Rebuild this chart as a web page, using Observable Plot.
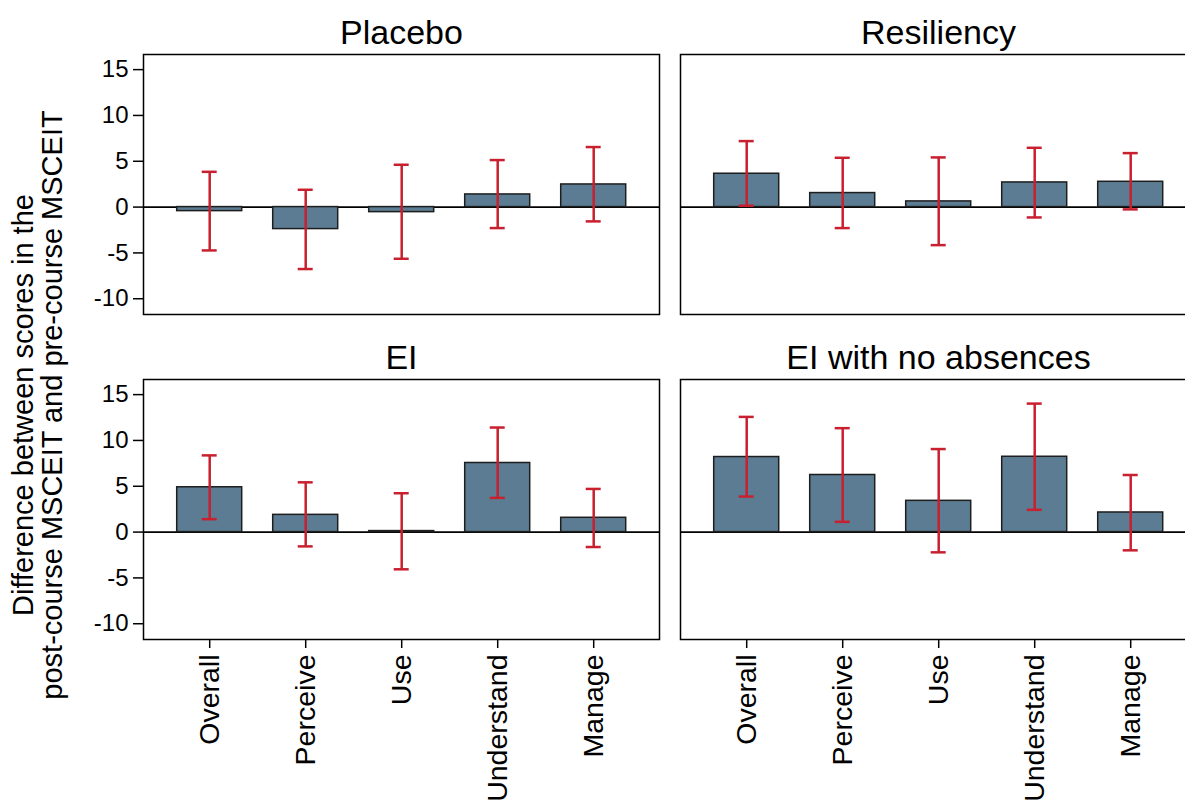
<!DOCTYPE html>
<html>
<head>
<meta charset="utf-8">
<script src="https://cdn.jsdelivr.net/npm/d3@7"></script>
<script src="https://cdn.jsdelivr.net/npm/@observablehq/plot@0.6"></script>
<style>
  html, body { margin: 0; padding: 0; background: #fff; overflow: hidden; }
  #chart { width: 1185px; height: 806px; overflow: hidden; position: relative; }
  #chart svg { font-family: "Liberation Sans", Arial, sans-serif; max-width: none !important; }
  #chart g[aria-label="y-axis tick label"] text { font-size: 24px; }
  #chart g[aria-label="x-axis tick label"] text { font-size: 28.5px; }
</style>
</head>
<body>
<div id="chart"></div>
<script>
// ---- Data ----
const measures = ["Overall", "Perceive", "Use", "Understand", "Manage"];
const groups = ["Placebo", "Resiliency", "EI", "EI with no absences"];

const placeboMean = [-0.44, -2.40, -0.55, 1.38, 2.47];
const placeboLow  = [-4.73, -6.76, -5.64, -2.29, -1.56];
const placeboHigh = [3.85, 1.89, 4.62, 5.13, 6.55];

const resiliencyMean = [3.64, 1.53, 0.62, 2.69, 2.76];
const resiliencyLow  = [0.15, -2.29, -4.15, -1.13, -0.25];
const resiliencyHigh = [7.20, 5.38, 5.42, 6.47, 5.89];

const eiMean = [4.89, 1.88, 0.11, 7.54, 1.56];
const eiLow  = [1.41, -1.56, -4.06, 3.73, -1.63];
const eiHigh = [8.37, 5.43, 4.24, 11.41, 4.71];

const eiNoAbsMean = [8.19, 6.23, 3.41, 8.22, 2.14];
const eiNoAbsLow  = [3.88, 1.12, -2.21, 2.43, -1.99];
const eiNoAbsHigh = [12.57, 11.34, 9.06, 14.02, 6.23];

const yTicks = [-10, -5, 0, 5, 10, 15];
const yLabelLines = ["Difference between scores in the", "post-course MSCEIT and pre-course MSCEIT"];

// ---- Build table ----
const series = [
  [placeboMean, placeboLow, placeboHigh],
  [resiliencyMean, resiliencyLow, resiliencyHigh],
  [eiMean, eiLow, eiHigh],
  [eiNoAbsMean, eiNoAbsLow, eiNoAbsHigh]
];
const data = [];
groups.forEach((g, gi) => {
  const [m, lo, hi] = series[gi];
  measures.forEach((k, i) => {
    data.push({group: g, col: gi % 2, row: Math.floor(gi / 2), measure: k, mean: m[i], low: lo[i], high: hi[i]});
  });
});
const panels = groups.map((g, gi) => ({group: g, col: gi % 2, row: Math.floor(gi / 2)}));

const red = "#c8202f";
const chart = Plot.plot({
  width: 1196,
  height: 806,
  marginLeft: 143.3,
  marginRight: 0,
  marginTop: 53.3,
  marginBottom: 166.5,
  style: {fontFamily: "'Liberation Sans', Arial, sans-serif", color: "black", background: "white", maxWidth: "none"},
  fx: {domain: [0, 1], paddingInner: 0.04, paddingOuter: 0, axis: null},
  fy: {domain: [0, 1], paddingInner: 0.2, paddingOuter: 0, axis: null},
  x: {domain: measures, paddingInner: 0.32, paddingOuter: 0.33},
  y: {domain: [-11.72, 16.65]},
  marks: [
    Plot.ruleY([0], {stroke: "black", strokeWidth: 1.6}),
    Plot.barY(data, {fx: "col", fy: "row", x: "measure", y: "mean", fill: "#5b7c92", stroke: "#1e1e1e", strokeWidth: 1.5}),
    Plot.ruleX(data, {fx: "col", fy: "row", x: "measure", y1: "low", y2: "high", stroke: red, strokeWidth: 2.5}),
    Plot.tickY(data, {fx: "col", fy: "row", x: "measure", y: "low", insetLeft: 25, insetRight: 25, stroke: red, strokeWidth: 2.5}),
    Plot.tickY(data, {fx: "col", fy: "row", x: "measure", y: "high", insetLeft: 25, insetRight: 25, stroke: red, strokeWidth: 2.5}),
    Plot.frame({stroke: "black", strokeWidth: 1.5}),
    Plot.text(panels, {fx: "col", fy: "row", text: "group", frameAnchor: "top", dy: -11, lineAnchor: "bottom", fontSize: 34, fill: "black"}),
    Plot.axisY({ticks: yTicks, tickSize: 10, tickPadding: 5, label: null, strokeWidth: 1.5, tickFormat: d => String(d).replace("−", "-")}),
    Plot.axisX({tickRotate: -90, tickSize: 9, tickPadding: 6, label: null, strokeWidth: 1.5})
  ]
});
chart.style.maxWidth = "none";
document.getElementById("chart").appendChild(chart);

// Two-line y-axis title
const svg = d3.select(chart);
const g = svg.append("g").attr("transform", "translate(0,405) rotate(-90)");
const baselines = [33, 62];
yLabelLines.forEach((line, i) => {
  g.append("text")
    .attr("x", 0)
    .attr("y", baselines[i])
    .attr("text-anchor", "middle")
    .attr("font-size", 29)
    .attr("fill", "black")
    .text(line);
});
</script>
</body>
</html>
